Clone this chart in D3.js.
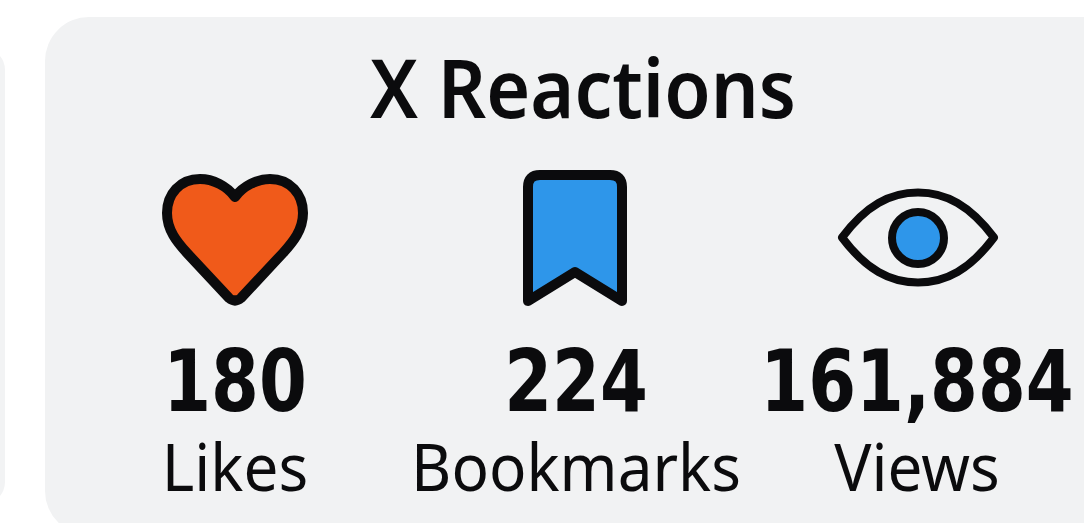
<!DOCTYPE html>
<html><head><meta charset="utf-8">
<script src="https://cdn.jsdelivr.net/npm/d3@7/dist/d3.min.js"></script>
<style>html,body{margin:0;padding:0;background:#fff;overflow:hidden}svg{display:block}</style>
</head><body><div id="c"></div>
<script>
const title = "X Reactions";
const categories = ["Likes", "Bookmarks", "Views"];
const values = [180, 224, 161884];
const iconFills = ["#f05a1a", "#2e96ea", "#2e96ea"];

const W = 1084, H = 523;
const font = "'Noto Sans', sans-serif";
const ink = "#0b0b0d";
const svg = d3.select("#c").append("svg").attr("width", W).attr("height", H);

svg.append("rect").attr("x", -40).attr("y", 48).attr("width", 45).attr("height", 456).attr("rx", 22).attr("fill", "#f2f3f4");
svg.append("rect").attr("x", 45).attr("y", 17).attr("width", 1090).attr("height", 518).attr("rx", 44).attr("fill", "#f1f2f3");

svg.append("text").attr("x", 583).attr("y", 118).attr("text-anchor", "middle")
  .attr("font-family", font).attr("font-size", 81).attr("font-weight", 600).attr("fill", ink)
  .attr("textLength", 426).attr("lengthAdjust", "spacingAndGlyphs").text(title);

const x = d3.scalePoint().domain(categories).range([235, 917]);
const fmt = d3.format(",");
const icons = {
  Likes: "M0,-41 C8,-52 22,-59 35,-59 C55,-59 68,-44 68,-25 C68,-8 58,4 48,15 L6,60 Q0,65 -6,60 L-48,15 C-58,4 -68,-8 -68,-25 C-68,-44 -55,-59 -35,-59 C-22,-59 -8,-52 0,-41 Z",
  Bookmarks: "M-35,-64 L35,-64 Q47,-64 47,-52 L47,62 L0,33 L-47,62 L-47,-52 Q-47,-64 -35,-64 Z"
};

const g = svg.selectAll("g.metric").data(categories).join("g").attr("class", "metric")
  .attr("transform", d => `translate(${x(d)},0)`);

g.each(function(d, i) {
  const s = d3.select(this);
  if (d === "Views") {
    s.append("path").attr("transform", "translate(1,237.5)")
      .attr("d", "M-76,0 C-52,-32 -28,-45 0,-45 C28,-45 52,-32 76,0 C52,32 28,45 0,45 C-28,45 -52,32 -76,0 Z")
      .attr("fill", "none").attr("stroke", ink).attr("stroke-width", 8).attr("stroke-linejoin", "round");
    s.append("circle").attr("cx", 1).attr("cy", 238).attr("r", 26)
      .attr("fill", iconFills[i]).attr("stroke", ink).attr("stroke-width", 8);
  } else {
    s.append("path").attr("transform", `translate(${d === "Likes" ? 0 : -1},${d === "Likes" ? 238 : 239})`)
      .attr("d", icons[d]).attr("fill", iconFills[i]).attr("stroke", ink)
      .attr("stroke-width", 10).attr("stroke-linejoin", "round");
  }
});

g.append("text").attr("y", 411).attr("text-anchor", "middle")
  .attr("transform", "scale(0.8,1)")
  .attr("font-family", "'DejaVu Sans', sans-serif").attr("font-size", 86).attr("font-weight", 700).attr("fill", ink)
  .text((d, i) => fmt(values[i]));
g.append("text").attr("y", 491).attr("text-anchor", "middle")
  .attr("transform", "scale(0.94,1)")
  .attr("font-family", font).attr("font-size", 66).attr("font-weight", 400).attr("fill", ink)
  .text(d => d);
</script></body></html>
